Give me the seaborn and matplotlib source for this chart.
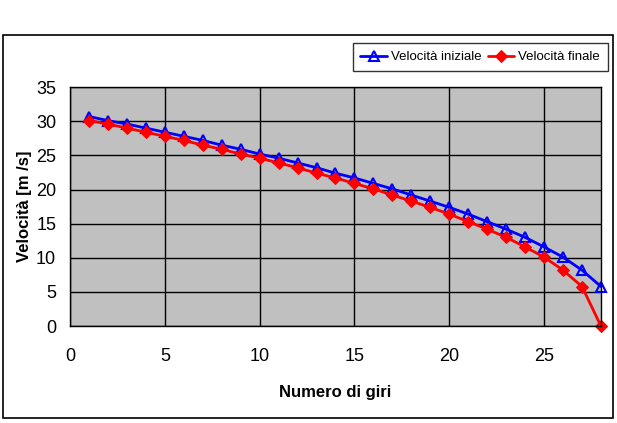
import matplotlib
matplotlib.use('Agg')
import matplotlib.pyplot as plt
from matplotlib.patches import Rectangle
import seaborn as sns
import pandas as pd

# ====================================
# DATA
# ====================================

giri = list(range(1, 29))

v_iniziale = [30.7, 30.1, 29.6, 29.0, 28.4, 27.8, 27.2, 26.5, 25.9, 25.2,
              24.6, 23.9, 23.2, 22.4, 21.7, 20.9, 20.1, 19.2, 18.3, 17.4,
              16.4, 15.3, 14.2, 13.0, 11.6, 10.1, 8.2, 5.8]

v_finale = [30.1, 29.6, 29.0, 28.4, 27.8, 27.2, 26.5, 25.9, 25.2, 24.6,
            23.9, 23.2, 22.4, 21.7, 20.9, 20.1, 19.2, 18.3, 17.4, 16.4,
            15.3, 14.2, 13.0, 11.6, 10.1, 8.2, 5.8, 0.0]

x_ticks = [0, 5, 10, 15, 20, 25]
y_ticks = [0, 5, 10, 15, 20, 25, 30, 35]

df = pd.DataFrame({'giro': giri, 'iniziale': v_iniziale, 'finale': v_finale})

# ====================================
# STYLE
# ====================================

sns.set_style('white')
plt.rcParams['font.family'] = ['Liberation Sans', 'DejaVu Sans']
plt.rcParams['text.color'] = 'black'
plt.rcParams['axes.labelcolor'] = 'black'
plt.rcParams['xtick.color'] = 'black'
plt.rcParams['ytick.color'] = 'black'

fig = plt.figure(figsize=(6.17, 4.23), dpi=100)
ax = fig.add_axes([0.1135, 0.229, 0.8605, 0.565])

# chart area border
fig.patches.append(Rectangle((3 / 617, 1 - 418 / 423), 610 / 617, 383 / 423,
                             transform=fig.transFigure, fill=False,
                             edgecolor='black', linewidth=1.2))

ax.set_facecolor('#c0c0c0')

# ====================================
# LINES
# ====================================

sns.lineplot(data=df, x='giro', y='iniziale', ax=ax, color='#0000ff',
             linewidth=2, marker='^', markersize=7, mfc='none',
             mec='#0000ff', mew=1.5, label='Velocità iniziale', clip_on=False)

sns.lineplot(data=df, x='giro', y='finale', ax=ax, color='#ff0000',
             linewidth=2, marker='D', markersize=6, mfc='#ff0000',
             mec='#ff0000', label='Velocità finale', clip_on=False)

# ====================================
# AXES
# ====================================

ax.set_xlim(0, 28)
ax.set_ylim(0, 35)
ax.set_xticks(x_ticks)
ax.set_yticks(y_ticks)
ax.grid(True, color='black', linewidth=1)
ax.set_axisbelow(True)

for s in ax.spines.values():
    s.set_color('black')
    s.set_linewidth(1)

ax.tick_params(axis='both', direction='out', length=4, width=1,
               labelsize=13, pad=6)
ax.tick_params(axis='x', pad=12)

ax.set_xlabel('Numero di giri', fontsize=12, fontweight='bold', labelpad=14)
ax.set_ylabel('Velocità [m /s]', fontsize=12, fontweight='bold', labelpad=3)

leg = ax.legend(loc='upper right', bbox_to_anchor=(608 / 617, 1 - 43 / 423),
                bbox_transform=fig.transFigure, ncol=2, frameon=True,
                fancybox=False, edgecolor='black', fontsize=9.5,
                handlelength=2.0, handletextpad=0.3, columnspacing=0.5,
                borderpad=0.6, borderaxespad=0)
leg.get_frame().set_linewidth(1)

plt.savefig('out.png', dpi=100)
plt.close()
